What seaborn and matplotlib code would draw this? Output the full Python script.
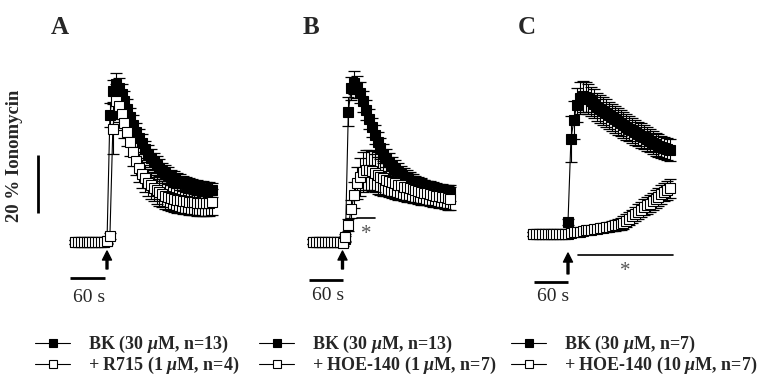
import numpy as np
import pandas as pd
import matplotlib.pyplot as plt
import seaborn as sns

# ---- data: % of ionomycin response, sampled every 5 s (t = 0 at BK addition) ----
time_a = np.arange(-55, 185, 5)
time_b = np.arange(-50, 190, 5)
time_c = np.arange(-60, 180, 5)

bk_a = [10.0, 10.0, 10.0, 10.0, 10.0, 10.0, 10.0, 10.0, 10.0, 10.0, 10.0,
        10.2, 53.8, 62.0, 64.5, 63.0, 61.0, 58.5, 56.0, 53.0, 50.5,
        48.0, 46.0, 44.0, 42.0, 40.5, 39.0, 37.8, 36.6, 35.6, 34.6,
        33.8, 33.0, 32.3, 31.7, 31.2, 30.7, 30.3, 29.9, 29.6, 29.3,
        29.0, 28.8, 28.6, 28.4, 28.2, 28.1, 28.0]
bk_a_sem = [0.8, 0.8, 0.8, 0.8, 0.8, 0.8, 0.8, 0.8, 0.8, 0.8, 0.8,
            0.8, 4.0, 3.8, 3.8, 3.6, 3.5, 3.4, 3.3, 3.3, 3.2,
            3.2, 3.1, 3.1, 3.0, 3.0, 3.0, 2.9, 2.9, 2.9, 2.8,
            2.8, 2.8, 2.7, 2.7, 2.7, 2.6, 2.6, 2.6, 2.6, 2.5,
            2.5, 2.5, 2.5, 2.5, 2.5, 2.5, 2.5]
r715_a = [10.0, 10.0, 10.0, 10.0, 10.0, 10.0, 10.0, 10.0, 10.0, 10.0, 10.0,
          10.3, 12.1, 49.0, 58.5, 57.0, 54.0, 51.0, 48.0, 44.5, 41.0,
          38.0, 35.5, 33.5, 32.0, 30.5, 29.5, 28.6, 27.8, 27.1, 26.5,
          26.0, 25.6, 25.2, 24.9, 24.6, 24.4, 24.2, 24.0, 23.9, 23.8,
          23.7, 23.6, 23.5, 23.5, 23.4, 23.4, 23.8]
r715_a_sem = [0.8, 0.8, 0.8, 0.8, 0.8, 0.8, 0.8, 0.8, 0.8, 0.8, 0.8,
              0.8, 1.0, 8.6, 6.0, 5.5, 5.3, 5.2, 5.0, 5.0, 4.9,
              4.9, 4.8, 4.8, 4.7, 4.7, 4.7, 4.6, 4.6, 4.6, 4.6,
              4.5, 4.5, 4.5, 4.5, 4.5, 4.5, 4.5, 4.5, 4.5, 4.5,
              4.5, 4.5, 4.5, 4.5, 4.5, 4.5, 4.5]

bk_b = [10.1, 10.1, 10.1, 10.1, 10.1, 10.1, 10.1, 10.1, 10.1, 10.1,
        10.1, 11.0, 55.0, 63.0, 65.0, 63.5, 61.5, 58.5, 55.5, 52.5,
        49.5, 47.0, 44.5, 42.5, 40.5, 39.0, 37.5, 36.3, 35.2, 34.2,
        33.3, 32.5, 31.8, 31.2, 30.6, 30.1, 29.6, 29.2, 28.8, 28.5,
        28.2, 27.9, 27.7, 27.5, 27.3, 27.1, 27.0, 26.9]
bk_b_sem = [0.8, 0.8, 0.8, 0.8, 0.8, 0.8, 0.8, 0.8, 0.8, 0.8,
            0.8, 1.0, 5.0, 4.0, 3.8, 3.7, 3.6, 3.5, 3.5, 3.4,
            3.4, 3.3, 3.3, 3.2, 3.2, 3.1, 3.1, 3.0, 3.0, 3.0,
            2.9, 2.9, 2.9, 2.8, 2.8, 2.8, 2.8, 2.7, 2.7, 2.7,
            2.7, 2.7, 2.6, 2.6, 2.6, 2.6, 2.6, 2.6]
hoe1_b = [10.1, 10.1, 10.1, 10.1, 10.1, 10.1, 10.1, 10.1, 10.1, 10.1,
          9.5, 11.7, 15.9, 21.4, 26.2, 30.3, 32.4, 34.1, 34.8, 34.8,
          34.5, 33.8, 33.0, 32.5, 32.0, 31.5, 31.0, 30.6, 30.2, 29.8,
          29.5, 29.1, 28.8, 28.5, 28.2, 27.9, 27.6, 27.3, 27.0, 26.8,
          26.5, 26.3, 26.0, 25.8, 25.6, 25.4, 25.2, 25.0]
hoe1_b_sem = [0.8, 0.8, 0.8, 0.8, 0.8, 0.8, 0.8, 0.8, 0.8, 0.8,
              0.8, 1.2, 2.0, 3.0, 4.5, 5.5, 6.5, 7.0, 7.0, 7.0,
              6.8, 6.6, 6.4, 6.2, 6.0, 5.8, 5.6, 5.5, 5.4, 5.2,
              5.1, 5.0, 4.9, 4.8, 4.7, 4.6, 4.5, 4.4, 4.3, 4.2,
              4.2, 4.1, 4.1, 4.0, 4.0, 4.0, 4.0, 4.0]

bk_c = [12.8, 12.8, 12.8, 12.8, 12.8, 12.8, 12.8, 12.8, 12.8, 12.8, 12.8, 12.8,
        16.9, 45.5, 52.0, 57.2, 59.7, 60.3, 59.9, 59.3, 58.5, 57.6,
        56.6, 55.8, 55.1, 54.4, 53.7, 53.0, 52.3, 51.6, 50.9, 50.3,
        49.7, 49.1, 48.5, 47.9, 47.3, 46.7, 46.1, 45.5, 44.9, 44.3,
        43.7, 43.2, 42.8, 42.4, 42.0, 41.7]
bk_c_sem = [0.8, 0.8, 0.8, 0.8, 0.8, 0.8, 0.8, 0.8, 0.8, 0.8, 0.8, 0.8,
            1.2, 8.0, 6.5, 5.8, 5.4, 5.3, 5.2, 5.1, 5.0, 5.0,
            4.9, 4.9, 4.8, 4.8, 4.7, 4.7, 4.6, 4.6, 4.5, 4.5,
            4.4, 4.4, 4.3, 4.3, 4.2, 4.2, 4.1, 4.1, 4.0, 4.0,
            3.9, 3.9, 3.8, 3.8, 3.7, 3.7]
hoe10_c = [12.8, 12.8, 12.8, 12.8, 12.8, 12.8, 12.8, 12.8, 12.8, 12.8, 12.8, 12.8,
           12.9, 13.1, 13.3, 13.5, 13.6, 13.8, 14.0, 14.1, 14.3, 14.5,
           14.6, 14.8, 15.0, 15.1, 15.3, 15.5, 15.7, 16.0, 16.3, 16.7,
           17.3, 18.0, 18.8, 19.6, 20.4, 21.2, 22.0, 22.6, 23.2, 24.0,
           24.8, 25.6, 26.4, 27.2, 27.9, 28.5]
hoe10_c_sem = [0.8, 0.8, 0.8, 0.8, 0.8, 0.8, 0.8, 0.8, 0.8, 0.8, 0.8, 0.8,
               0.9, 1.0, 1.0, 1.1, 1.1, 1.2, 1.2, 1.3, 1.3, 1.4,
               1.4, 1.5, 1.5, 1.6, 1.6, 1.7, 1.8, 1.9, 2.0, 2.1,
               2.2, 2.3, 2.4, 2.5, 2.6, 2.7, 2.8, 2.9, 3.0, 3.0,
               3.1, 3.1, 3.2, 3.2, 3.3, 3.3]

labels_bk = ['BK (30 $\\mu$M, n=13)', 'BK (30 $\\mu$M, n=13)', 'BK (30 $\\mu$M, n=7)']
labels_ant = ['+ R715 (1 $\\mu$M, n=4)', '+ HOE-140 (1 $\\mu$M, n=7)', '+ HOE-140 (10 $\\mu$M, n=7)']

# ---- layout (pixel geometry of the 765x380 figure) ----
W, H = 765, 380
PX_S = 35 / 60          # px per second
PX_PCT = 2.9            # px per % ionomycin
Y0 = 271                # pixel row of 0 %
XLIM = (-170, 200)
YLIM = (-14, 93)

sns.set_style('white')
plt.rcParams['font.family'] = ['Liberation Serif', 'DejaVu Serif']
plt.rcParams['mathtext.fontset'] = 'custom'
plt.rcParams['mathtext.it'] = 'Liberation Serif:italic:bold'
plt.rcParams['mathtext.rm'] = 'Liberation Serif:bold'

fig = plt.figure(figsize=(W / 100, H / 100), dpi=100)


def make_axes(arrow_px):
    left = arrow_px + XLIM[0] * PX_S
    width = (XLIM[1] - XLIM[0]) * PX_S
    bottom_px = Y0 - YLIM[0] * PX_PCT
    height = (YLIM[1] - YLIM[0]) * PX_PCT
    ax = fig.add_axes([left / W, (H - bottom_px) / H, width / W, height / H])
    return ax


panels = [
    dict(arrow=107, t=time_a, bk=bk_a, bk_sem=bk_a_sem, ant=r715_a, ant_sem=r715_a_sem,
         letter='A', letter_x=60, arrow_y=(6.9, 0.7), bar=(-63.5, -3.5, -2.4), txt=(-31, -9.0),
         leg_x=35),
    dict(arrow=342.5, t=time_b, bk=bk_b, bk_sem=bk_b_sem, ant=hoe1_b, ant_sem=hoe1_b_sem,
         letter='B', letter_x=311, arrow_y=(6.9, 0.7), bar=(-57, 0.5, -3.1), txt=(-25.5, -8.3),
         leg_x=259),
    dict(arrow=568, t=time_c, bk=bk_c, bk_sem=bk_c_sem, ant=hoe10_c, ant_sem=hoe10_c_sem,
         letter='C', letter_x=527, arrow_y=(6.2, -1.0), bar=(-58, 0.5, -3.7), txt=(-25, -8.9),
         leg_x=511),
]

for i, p in enumerate(panels):
    ax = make_axes(p['arrow'])
    df_bk = pd.DataFrame({'time': p['t'], 'value': p['bk'], 'sem': p['bk_sem']})
    df_ant = pd.DataFrame({'time': p['t'], 'value': p['ant'], 'sem': p['ant_sem']})

    ax.errorbar(df_bk['time'], df_bk['value'], yerr=df_bk['sem'], fmt='none', ecolor='black',
                elinewidth=0.8, capsize=4, capthick=0.9, zorder=2)
    sns.lineplot(data=df_bk, x='time', y='value', ax=ax, color='black', lw=0.8, marker='s',
                 markersize=7.5, markerfacecolor='black', markeredgecolor='black', markeredgewidth=0.8,
                 errorbar=None, label=labels_bk[i], zorder=3)
    ax.errorbar(df_ant['time'], df_ant['value'], yerr=df_ant['sem'], fmt='none', ecolor='black',
                elinewidth=0.8, capsize=4, capthick=0.9, zorder=4)
    sns.lineplot(data=df_ant, x='time', y='value', ax=ax, color='black', lw=0.8, marker='s',
                 markersize=7.5, markerfacecolor='white', markeredgecolor='black', markeredgewidth=0.8,
                 errorbar=None, label=labels_ant[i], zorder=5)
    ax.set_xlim(XLIM)
    ax.set_ylim(YLIM)
    ax.axis('off')

    # stimulus arrow
    ax.annotate('', xy=(0, p['arrow_y'][0]), xytext=(0, p['arrow_y'][1]),
                arrowprops=dict(facecolor='black', edgecolor='black', width=1.4,
                                headwidth=6.5, headlength=6.5, shrink=0))
    # 60 s scale bar
    x0, x1, yb = p['bar']
    ax.plot([x0, x1], [yb, yb], color='black', lw=2, solid_capstyle='butt', clip_on=False)
    ax.text(p['txt'][0], p['txt'][1], '60 s', ha='center', va='center', fontsize=14)

    fig.text(p['letter_x'] / W, 1 - 28 / H, p['letter'], ha='center', va='center',
             fontsize=18, fontweight='bold')

    handles, labs = ax.get_legend_handles_labels()
    ax.legend(handles, labs, loc='upper left', bbox_to_anchor=(p['leg_x'] / W, 1 - 334 / H),
              bbox_transform=fig.transFigure, frameon=False, borderpad=0, borderaxespad=0,
              handlelength=1.95, handletextpad=1.0, labelspacing=0.0, markerscale=0.85,
              prop=dict(family='Liberation Serif', weight='bold', size=13))

    if i == 0:
        ax.plot([-118.4, -118.4], [20, 40], color='black', lw=2, solid_capstyle='butt', clip_on=False)
        ax.text(-158, 39.7, '20 % Ionomycin', rotation=90, ha='center', va='center',
                fontsize=13.5, fontweight='bold')
    if i == 1:
        ax.plot([24.4, 55.7], [18.3, 18.3], color='black', lw=1.2)
        ax.text(40.3, 12.5, '*', ha='center', va='center', fontsize=15, color='#555555')
    if i == 2:
        ax.plot([17, 180], [5.5, 5.5], color='black', lw=1.2)
        ax.text(97.8, -0.3, '*', ha='center', va='center', fontsize=15, color='#555555')

fig.savefig('out.png', dpi=100)
